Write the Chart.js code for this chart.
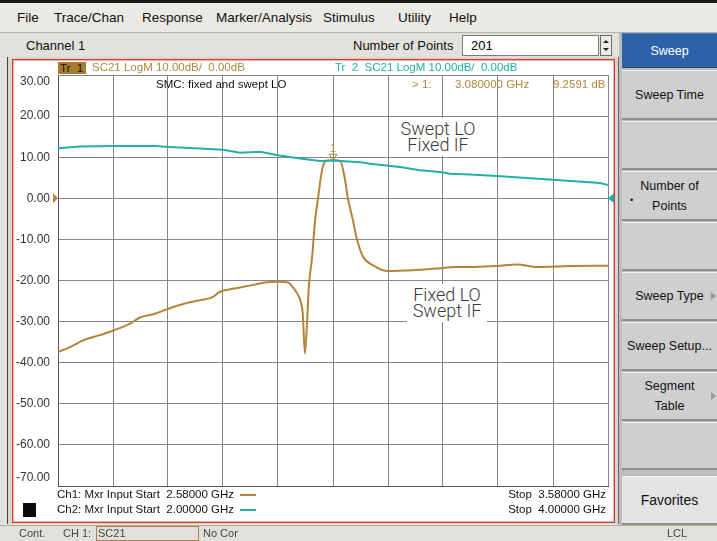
<!DOCTYPE html>
<html>
<head>
<meta charset="utf-8">
<script src="https://cdn.jsdelivr.net/npm/chart.js@4.4.1/dist/chart.umd.min.js"></script>
<style>
html, body { margin: 0; padding: 0; }
body { width: 717px; height: 541px; position: relative; overflow: hidden; background: #e4e2dc; font-family: "Liberation Sans", Arial, sans-serif; }
.a { position: absolute; white-space: nowrap; }
#topline { left: 0; top: 0; width: 717px; height: 3px; background: #1a1a1a; }
#menu { left: 0; top: 3px; width: 717px; height: 29px; background: #ebe9e3; border-bottom: 1px solid #b5b2ab; }
.mi { font-size: 13.5px; color: #111; top: 10px; }
#row2 { left: 0; top: 33px; width: 620px; height: 25px; background: #e3e1db; }
.r2 { font-size: 13px; color: #111; top: 38px; }
#npts { left: 462px; top: 35px; width: 134px; height: 19px; background: #fff; border: 1px solid #7a7a7a; font-size: 13px; line-height: 19px; padding-left: 8px; box-sizing: border-box; width: 137px; height: 21px; }
#spin { left: 600px; top: 35px; width: 12px; height: 21px; background: #ecebe6; border: 1px solid #6a6a6a; box-sizing: border-box; }
#spin .u, #spin .d { position: absolute; left: 2px; width: 0; height: 0; border-left: 3px solid transparent; border-right: 3px solid transparent; }
#spin .u { top: 4px; border-bottom: 3px solid #222; }
#spin .d { top: 12px; border-top: 3px solid #222; }
#side { left: 619px; top: 33px; width: 98px; height: 492px; background: #bdbdbd; }
.btn { position: absolute; left: 622px; width: 95px; background: #cfcfcf; border-top: 1px solid #f2f2f2; border-bottom: 2px solid #8e8e8e; box-sizing: border-box; font-size: 12.5px; color: #111; text-align: center; display: flex; align-items: center; justify-content: center; line-height: 20px; }
.arr { position: absolute; right: 1px; top: 50%; margin-top: -4px; width: 0; height: 0; border-top: 4px solid transparent; border-bottom: 4px solid transparent; border-left: 5px solid #9a9a9a; }
#chwin { left: 7px; top: 57px; width: 612px; height: 467px; background: #d9d6cf; border-left: 1px solid #444; border-right: 1px solid #666; box-sizing: border-box; }
#frame { left: 12px; top: 59px; width: 603px; height: 464px; background: #fff; border: 1px solid #d8352e; box-shadow: inset 0 0 0 1px #f1b4ad; box-sizing: border-box; }
#chartbox { left: 14px; top: 61px; width: 600px; height: 460px; }
.t { font-size: 11.5px; }
.gold { color: #b3853a; }
.cyan { color: #1fb0aa; }
#tr1 { left: 58px; top: 62px; width: 28px; height: 12px; background: #a77b2f; color: #111; font-size: 11.5px; line-height: 12px; padding-left: 2px; box-sizing: border-box; }
.big { font-family: Roboto, "Open Sans", sans-serif; font-weight: 300; font-size: 18px; line-height: 16px; color: #3a3a3a; background: #fff; text-align: center; padding: 3px 0; }
#status { left: 0; top: 525px; width: 717px; height: 16px; background: #e2e0da; border-top: 1px solid #b0ada6; }
.st { font-size: 11px; color: #444; top: 527px; }
#sc21 { left: 96px; top: 526px; width: 103px; height: 15px; border: 1px solid #a88444; box-sizing: border-box; font-size: 11px; color: #444; padding-left: 1px; line-height: 13px; }
</style>
</head>
<body>
<div class="a" id="topline"></div>
<div class="a" id="menu"></div>
<div class="a mi" style="left:17px">File</div>
<div class="a mi" style="left:54px">Trace/Chan</div>
<div class="a mi" style="left:142px">Response</div>
<div class="a mi" style="left:216px">Marker/Analysis</div>
<div class="a mi" style="left:323px">Stimulus</div>
<div class="a mi" style="left:398px">Utility</div>
<div class="a mi" style="left:449px">Help</div>

<div class="a" id="row2"></div>
<div class="a r2" style="left:26px">Channel 1</div>
<div class="a r2" style="left:353px">Number of Points</div>
<div class="a" id="npts">201</div>
<div class="a" id="spin"><div class="u"></div><div class="d"></div></div>

<div class="a" id="side"></div>
<div class="btn" style="top:33px;height:35px;background:#2d62a8;color:#fff;border-top:1px solid #4a7cc0;border-bottom:1px solid #1d4680;">Sweep</div>
<div class="btn" style="top:70px;height:50px;">Sweep Time</div>
<div class="btn" style="top:121px;height:49px;"></div>
<div class="btn" style="top:171px;height:50px;"><span style="position:absolute;left:8px;top:18px;font-size:9px;">&#8226;</span>Number of<br>Points</div>
<div class="btn" style="top:222px;height:49px;"></div>
<div class="btn" style="top:272px;height:49px;">Sweep Type<span class="arr"></span></div>
<div class="btn" style="top:322px;height:49px;">Sweep Setup...</div>
<div class="btn" style="top:372px;height:49px;">Segment<br>Table<span class="arr"></span></div>
<div class="btn" style="top:422px;height:48px;"></div>
<div class="btn" style="top:476px;height:49px;background:#e3e3e3;font-size:14px;">Favorites</div>

<div class="a" id="chwin"></div>
<div class="a" id="frame"></div>
<div class="a" id="chartbox"><canvas id="chart" width="600" height="460"></canvas></div>

<div class="a" id="tr1">Tr&nbsp; 1</div>
<div class="a t gold" style="left:92px;top:61px">SC21 LogM 10.00dB/&nbsp; 0.00dB</div>
<div class="a t cyan" style="left:335px;top:61px">Tr&nbsp; 2&nbsp; SC21 LogM 10.00dB/&nbsp; 0.00dB</div>
<div class="a t" style="left:156px;top:78px;color:#111">SMC: fixed and swept LO</div>
<div class="a t gold" style="left:412px;top:78px">&gt; 1:</div>
<div class="a t gold" style="left:455px;top:78px">3.080000 GHz</div>
<div class="a t gold" style="left:553px;top:78px">9.2591 dB</div>

<div class="a big" style="left:398px;top:118px;width:80px;">Swept LO<br>Fixed IF</div>
<div class="a big" style="left:407px;top:284px;width:80px;">Fixed LO<br>Swept IF</div>

<div class="a t" style="left:57px;top:488px;color:#111">Ch1: Mxr Input Start&nbsp; 2.58000 GHz</div>
<div class="a" style="left:240px;top:494px;width:16px;height:2px;background:#b3853a"></div>
<div class="a t" style="left:57px;top:503px;color:#111">Ch2: Mxr Input Start&nbsp; 2.00000 GHz</div>
<div class="a" style="left:240px;top:509px;width:16px;height:2px;background:#1fb0aa"></div>
<div class="a" style="left:23px;top:503px;width:13px;height:14px;background:#0a0a0a"></div>
<div class="a t" style="right:111px;top:488px;color:#111">Stop&nbsp; 3.58000 GHz</div>
<div class="a t" style="right:111px;top:503px;color:#111">Stop&nbsp; 4.00000 GHz</div>

<div class="a" id="status"></div>
<div class="a st" style="left:19px">Cont.</div>
<div class="a st" style="left:63px">CH 1:</div>
<div class="a" id="sc21">SC21</div>
<div class="a st" style="left:203px">No Cor</div>
<div class="a st" style="left:667px">LCL</div>

<script>
// trace 1: channel 1 sweep, 2.58 - 3.58 GHz (fixed LO / swept IF + peak)
const freqCh1 = [2.580, 2.602, 2.625, 2.656, 2.682, 2.711, 2.729, 2.756, 2.782, 2.811,
                 2.838, 2.862, 2.871, 2.880, 2.911, 2.938, 2.956, 2.980, 2.998, 3.007,
                 3.015, 3.021, 3.025, 3.029, 3.033, 3.036, 3.042, 3.047, 3.053, 3.060,
                 3.066, 3.072, 3.080, 3.087, 3.093, 3.102, 3.107, 3.115, 3.124, 3.135,
                 3.153, 3.180, 3.225, 3.275, 3.302, 3.340, 3.378, 3.415, 3.451, 3.511, 3.580];
const gainCh1 = [-37.4, -36.2, -34.6, -33.3, -32.1, -30.5, -29.0, -28.1, -26.8, -25.6,
                 -24.8, -24.0, -23.0, -22.5, -21.7, -21.0, -20.5, -20.3, -20.5, -21.6,
                 -23.2, -25.0, -28.0, -37.8, -29.7, -21.6, -14.3, -6.0, 0.2, 6.8,
                 9.0, 9.2, 9.26, 9.2, 9.1, 4.4, 0.0, -4.6, -10.2, -14.3,
                 -16.3, -17.7, -17.5, -17.0, -16.7, -16.7, -16.5, -16.1, -16.7, -16.5, -16.4];

// trace 2: channel 2 sweep, 2.0 - 4.0 GHz (swept LO / fixed IF)
const freqCh2 = [2.000, 2.080, 2.204, 2.353, 2.404, 2.516, 2.600, 2.662, 2.735, 2.800,
                 2.880, 2.953, 3.000, 3.098, 3.135, 3.244, 3.316, 3.389, 3.425, 3.498,
                 3.596, 3.800, 3.971, 4.000];
const gainCh2 = [12.2, 12.6, 12.7, 12.7, 12.5, 12.1, 11.8, 11.1, 11.3, 10.5,
                 9.7, 9.1, 9.2, 8.8, 8.4, 7.6, 6.8, 6.4, 6.0, 5.8,
                 5.4, 4.5, 3.7, 3.2];

const yTicks = [30, 20, 10, 0, -10, -20, -30, -40, -50, -60, -70];
const markerFreq = 3.08;
const markerGain = 9.2591;

const gold = '#b3853a';
const cyan = '#1fb0aa';

const overlay = {
    id: 'overlay',
    afterDraw(chart) {
        const { ctx, chartArea: a, scales: { x, y } } = chart;
        ctx.save();
        // y tick labels, first/last pulled inside the grid like the analyzer does
        ctx.font = '12px "Liberation Sans", Arial, sans-serif';
        ctx.fillStyle = '#333';
        ctx.textAlign = 'right';
        ctx.textBaseline = 'middle';
        yTicks.forEach(v => {
            let py = y.getPixelForValue(v);
            py = Math.min(Math.max(py, a.top + 7), a.bottom - 8);
            ctx.fillText(v.toFixed(2), a.left - 8, py);
        });
        // reference level arrows
        const y0 = y.getPixelForValue(0);
        ctx.fillStyle = gold;
        ctx.beginPath();
        ctx.moveTo(a.left - 5, y0 - 5); ctx.lineTo(a.left, y0); ctx.lineTo(a.left - 5, y0 + 5);
        ctx.fill();
        ctx.fillStyle = cyan;
        ctx.beginPath();
        ctx.moveTo(a.right + 6, y0 - 5); ctx.lineTo(a.right, y0); ctx.lineTo(a.right + 6, y0 + 5);
        ctx.fill();
        // marker 1
        const mx = x.getPixelForValue(markerFreq);
        const my = y.getPixelForValue(markerGain);
        ctx.strokeStyle = gold;
        ctx.lineWidth = 1;
        ctx.beginPath();
        ctx.moveTo(mx - 4, my - 6); ctx.lineTo(mx + 4, my - 6); ctx.lineTo(mx, my); ctx.closePath();
        ctx.stroke();
        ctx.fillStyle = gold;
        ctx.textAlign = 'center';
        ctx.textBaseline = 'alphabetic';
        ctx.font = '11px "Liberation Sans", Arial, sans-serif';
        ctx.fillText('1', mx, my - 8);
        ctx.restore();
    }
};

new Chart(document.getElementById('chart'), {
    type: 'line',
    data: {
        datasets: [{
            label: 'Tr 2',
            data: freqCh2.map((f, i) => ({ x: f, y: gainCh2[i] })),
            xAxisID: 'x2',
            borderColor: cyan,
            borderWidth: 2,
            pointRadius: 0,
            tension: 0
        }, {
            label: 'Tr 1',
            data: freqCh1.map((f, i) => ({ x: f, y: gainCh1[i] })),
            xAxisID: 'x',
            borderColor: gold,
            borderWidth: 2,
            pointRadius: 0,
            cubicInterpolationMode: 'monotone'
        }]
    },
    options: {
        responsive: false,
        maintainAspectRatio: false,
        animation: false,
        layout: { padding: { left: 0, right: 6, top: 14, bottom: 35 } },
        plugins: {
            legend: { display: false },
            tooltip: { enabled: false }
        },
        scales: {
            x: {
                type: 'linear',
                min: 2.58,
                max: 3.58,
                ticks: { display: false, count: 11 },
                grid: { color: '#858585', drawTicks: false },
                border: { color: '#555' },
                afterFit(s) { s.height = 0; }
            },
            x2: {
                type: 'linear',
                min: 2.0,
                max: 4.0,
                display: false
            },
            y: {
                min: -70,
                max: 30,
                ticks: { display: false, stepSize: 10 },
                grid: { color: '#858585', drawTicks: false },
                border: { color: '#555' },
                afterFit(s) { s.width = 44; }
            }
        }
    },
    plugins: [overlay]
});
</script>
</body>
</html>
